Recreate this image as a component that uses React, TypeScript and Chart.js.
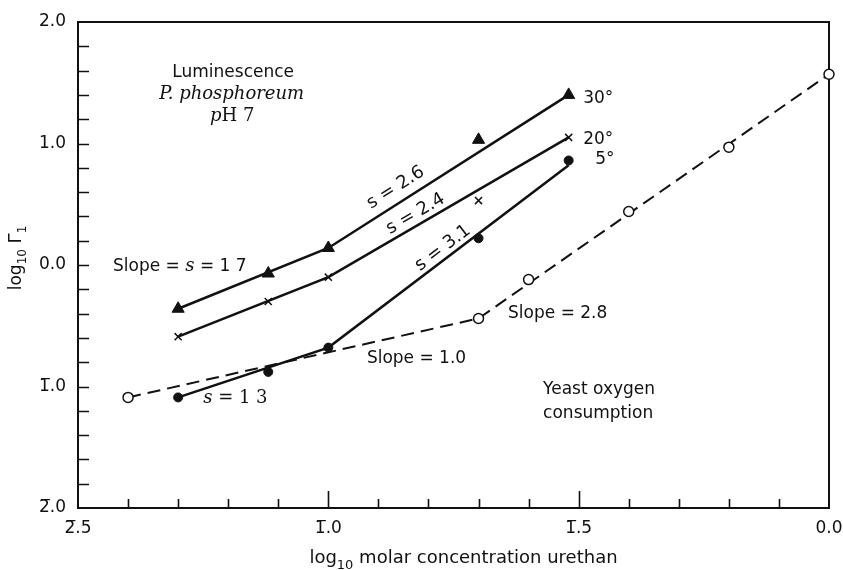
import React, { useEffect, useRef } from 'react';
import { Chart, registerables } from 'chart.js';

Chart.register(...registerables);

// ---- axis ticks ----
const xTickValues = [-1.5, -1.0, -0.5, 0.0];
const xTickLabels = ['2\u0305.5', '1\u0305.0', '1\u0305.5', '0.0'];
const yTickValues = [-2, -1, 0, 1, 2];
const yTickLabels = ['2\u0305.0', '1\u0305.0', '0.0', '1.0', '2.0'];
const xMinorStep = 0.1;
const yMinorStep = 0.2;

// ---- observed points: luminescence (P. phosphoreum) ----
const lumX = [-1.3, -1.12, -1.0, -0.7, -0.52];
const lum30 = [-0.36, -0.07, 0.14, 1.03, 1.4];
const lum20 = [-0.59, -0.3, -0.1, 0.53, 1.05];
const lum5 = [-1.09, -0.88, -0.68, 0.22, 0.86];

// ---- observed points: yeast oxygen consumption ----
const yeastX = [-1.4, -0.7, -0.6, -0.4, -0.2, 0.0];
const yeastY = [-1.09, -0.44, -0.12, 0.44, 0.97, 1.57];

// ---- fitted lines (vertices) ----
const fitX = [-1.3, -1.0, -0.52];
const fit30 = [-0.36, 0.14, 1.4];
const fit20 = [-0.59, -0.1, 1.05];
const fit5 = [-1.09, -0.68, 0.82];
const yeastFitX = [-1.4, -0.7, 0.0];
const yeastFitY = [-1.09, -0.44, 1.57];

const SANS = '"DejaVu Sans", sans-serif';
const SERIF = '"DejaVu Serif", serif';
const f = (size: number, fam: string, style = '') => `${style} ${size}px ${fam}`.trim();

type Seg = { t: string; f: string; dy?: number };
type Note = { x: number; y: number; align: 'left' | 'center'; segs: Seg[] };

const notes: Note[] = [
  { x: -1.19, y: 1.6, align: 'center', segs: [{ t: 'Luminescence', f: f(17, SANS) }] },
  { x: -1.193, y: 1.415, align: 'center', segs: [{ t: 'P. phosphoreum', f: f(18, SERIF, 'italic') }] },
  {
    x: -1.192, y: 1.235, align: 'center',
    segs: [{ t: 'p', f: f(18, SERIF, 'italic') }, { t: 'H 7', f: f(18, SERIF) }],
  },
  {
    x: -1.43, y: 0.0, align: 'left',
    segs: [
      { t: 'Slope = ', f: f(17, SANS) },
      { t: 's', f: f(18, SERIF, 'italic') },
      { t: ' = 1 7', f: f(17, SANS) },
    ],
  },
  {
    x: -1.25, y: -1.09, align: 'left',
    segs: [{ t: 's', f: f(18, SERIF, 'italic') }, { t: ' = 1 3', f: f(18, SERIF) }],
  },
  { x: -0.923, y: -0.757, align: 'left', segs: [{ t: 'Slope = 1.0', f: f(17, SANS) }] },
  { x: -0.641, y: -0.387, align: 'left', segs: [{ t: 'Slope = 2.8', f: f(17, SANS) }] },
  { x: -0.571, y: -1.012, align: 'left', segs: [{ t: 'Yeast oxygen', f: f(17, SANS) }] },
  { x: -0.571, y: -1.21, align: 'left', segs: [{ t: 'consumption', f: f(17, SANS) }] },
  { x: -0.491, y: 1.383, align: 'left', segs: [{ t: '30°', f: f(17, SANS) }] },
  { x: -0.491, y: 1.045, align: 'left', segs: [{ t: '20°', f: f(17, SANS) }] },
  { x: -0.467, y: 0.881, align: 'left', segs: [{ t: '5°', f: f(17, SANS) }] },
];

type RotNote = { x: number; y: number; text: string; from: [number, number]; to: [number, number] };
const rotNotes: RotNote[] = [
  { x: -0.867, y: 0.645, text: 's = 2.6', from: [-1.0, 0.14], to: [-0.52, 1.4] },
  { x: -0.827, y: 0.43, text: 's = 2.4', from: [-1.0, -0.1], to: [-0.52, 1.05] },
  { x: -0.773, y: 0.148, text: 's = 3.1', from: [-1.0, -0.68], to: [-0.52, 0.82] },
];

function drawSegs(ctx: CanvasRenderingContext2D, segs: Seg[], x: number, y: number, align: 'left' | 'center') {
  ctx.textAlign = 'left';
  ctx.textBaseline = 'alphabetic';
  let w = 0;
  for (const s of segs) {
    ctx.font = s.f;
    w += ctx.measureText(s.t).width;
  }
  let cx = align === 'center' ? x - w / 2 : x;
  for (const s of segs) {
    ctx.font = s.f;
    ctx.fillText(s.t, cx, y + (s.dy || 0));
    cx += ctx.measureText(s.t).width;
  }
}

const framePlugin = {
  id: 'frameTicks',
  beforeDatasetsDraw(chart: any) {
    const { ctx, chartArea: a, scales } = chart;
    const xs = scales.x;
    const ys = scales.y;
    ctx.save();
    ctx.strokeStyle = '#111';
    ctx.lineWidth = 2;
    ctx.strokeRect(a.left, a.top, a.right - a.left, a.bottom - a.top);
    ctx.lineWidth = 1.6;
    ctx.beginPath();
    // y ticks (inward)
    for (let v = ys.min + yMinorStep; v < ys.max - 1e-6; v += yMinorStep) {
      const p = Math.round(ys.getPixelForValue(v)) + 0.5;
      ctx.moveTo(a.left, p);
      ctx.lineTo(a.left + 11, p);
    }
    // x ticks (inward)
    for (let v = xs.min + xMinorStep; v < xs.max - 1e-6; v += xMinorStep) {
      const p = Math.round(xs.getPixelForValue(v)) + 0.5;
      const major = xTickValues.some((t) => Math.abs(t - v) < 1e-6);
      ctx.moveTo(p, a.bottom);
      ctx.lineTo(p, a.bottom - (major ? 17 : 9));
    }
    ctx.stroke();
    ctx.restore();
  },
  afterDraw(chart: any) {
    const { ctx, chartArea: a, scales } = chart;
    const xs = scales.x;
    const ys = scales.y;
    ctx.save();
    ctx.fillStyle = '#111';
    for (const n of notes) {
      drawSegs(ctx, n.segs, xs.getPixelForValue(n.x), ys.getPixelForValue(n.y) + 6, n.align);
    }
    for (const r of rotNotes) {
      const dx = xs.getPixelForValue(r.to[0]) - xs.getPixelForValue(r.from[0]);
      const dy = ys.getPixelForValue(r.to[1]) - ys.getPixelForValue(r.from[1]);
      ctx.save();
      ctx.translate(xs.getPixelForValue(r.x), ys.getPixelForValue(r.y));
      ctx.rotate(Math.atan2(dy, dx));
      drawSegs(ctx, [{ t: r.text, f: f(18, SANS) }], 0, 6, 'center');
      ctx.restore();
    }
    // x axis title
    drawSegs(
      ctx,
      [
        { t: 'log', f: f(18, SANS) },
        { t: '10', f: f(13, SANS), dy: 6 },
        { t: ' molar concentration urethan', f: f(18, SANS) },
      ],
      (a.left + a.right) / 2 + 10,
      563,
      'center'
    );
    // y axis title
    ctx.save();
    ctx.translate(21, (a.top + a.bottom) / 2 - 7);
    ctx.rotate(-Math.PI / 2);
    drawSegs(
      ctx,
      [
        { t: 'log', f: f(17, SANS) },
        { t: '10', f: f(12, SANS), dy: 5 },
        { t: ' Γ', f: f(18, SANS) },
        { t: '1', f: f(12, SANS), dy: 5 },
      ],
      0,
      0,
      'center'
    );
    ctx.restore();
    ctx.restore();
  },
};

const pts = (xs: number[], ys: number[]) => xs.map((x, i) => ({ x, y: ys[i] }));

export default function App() {
  const ref = useRef<HTMLCanvasElement | null>(null);
  useEffect(() => {
    if (!ref.current) return;
    const lineBase = {
      showLine: true,
      pointRadius: 0,
      borderColor: '#111',
      borderWidth: 2.5,
      fill: false,
      tension: 0,
      clip: false as any,
    };
    const chart = new Chart(ref.current, {
      type: 'scatter',
      data: {
        datasets: [
          {
            label: '30°', data: pts(lumX, lum30), pointStyle: 'triangle', pointRadius: 7,
            backgroundColor: '#111', borderColor: '#111', borderWidth: 1, clip: false as any,
          },
          {
            label: '20°', data: pts(lumX, lum20), pointStyle: 'crossRot', pointRadius: 5,
            backgroundColor: '#111', borderColor: '#111', borderWidth: 1.5, clip: false as any,
          },
          {
            label: '5°', data: pts(lumX, lum5), pointStyle: 'circle', pointRadius: 4.5,
            backgroundColor: '#111', borderColor: '#111', borderWidth: 1, clip: false as any,
          },
          {
            label: 'Yeast', data: pts(yeastX, yeastY), pointStyle: 'circle', pointRadius: 5,
            backgroundColor: '#fff', borderColor: '#111', borderWidth: 1.5, clip: false as any,
          },
          { label: 'fit30', data: pts(fitX, fit30), ...lineBase },
          { label: 'fit20', data: pts(fitX, fit20), ...lineBase },
          { label: 'fit5', data: pts(fitX, fit5), ...lineBase },
          { label: 'yeastFit', data: pts(yeastFitX, yeastFitY), ...lineBase, borderWidth: 2, borderDash: [13, 7] },
        ] as any,
      },
      options: {
        animation: false,
        responsive: false,
        devicePixelRatio: 1,
        events: [],
        layout: { padding: { top: 22, right: 14, left: 0, bottom: 0 } },
        plugins: { legend: { display: false }, tooltip: { enabled: false } },
        scales: {
          x: {
            type: 'linear',
            min: -1.5,
            max: 0,
            grid: { display: false, drawTicks: false },
            border: { display: false },
            afterBuildTicks: (s: any) => {
              s.ticks = xTickValues.map((v) => ({ value: v }));
            },
            afterFit: (s: any) => {
              s.height = 62;
              s.paddingLeft = 0;
              s.paddingRight = 0;
            },
            ticks: {
              autoSkip: false,
              maxRotation: 0,
              padding: 10,
              color: '#111',
              font: { family: SANS, size: 17 },
              callback: (_v: any, i: number) => xTickLabels[i],
            },
          },
          y: {
            type: 'linear',
            min: -2,
            max: 2,
            grid: { display: false, drawTicks: false },
            border: { display: false },
            afterBuildTicks: (s: any) => {
              s.ticks = yTickValues.map((v) => ({ value: v }));
            },
            afterFit: (s: any) => {
              s.width = 78;
              s.paddingTop = 0;
              s.paddingBottom = 0;
            },
            ticks: {
              autoSkip: false,
              padding: 12,
              color: '#111',
              font: { family: SANS, size: 17 },
              callback: (_v: any, i: number) => yTickLabels[i],
            },
          },
        },
      } as any,
      plugins: [framePlugin],
    });
    return () => chart.destroy();
  }, []);
  return (
    <div style={{ position: 'absolute', left: 0, top: 0, width: 843, height: 570, background: '#fff' }}>
      <canvas ref={ref} width={843} height={570} style={{ display: 'block' }} />
    </div>
  );
}
